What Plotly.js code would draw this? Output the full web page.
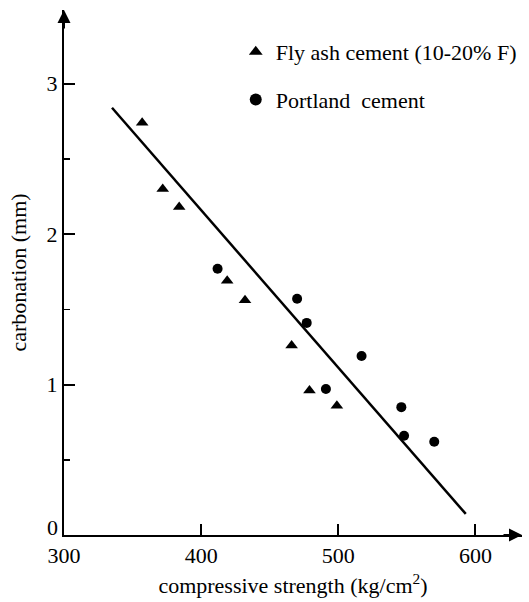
<!DOCTYPE html>
<html>
<head>
<meta charset="utf-8">
<script src="https://cdn.plot.ly/plotly-3.0.1.min.js"></script>
<style>html,body{margin:0;padding:0;background:#fff;}#chart{width:529px;height:602px;}</style>
</head>
<body>
<div id="chart"></div>
<script>
// Fly ash cement (10-20% F) — triangles
const flyAshStrength = [357, 372, 384, 419, 432, 466, 479, 499];
const flyAshCarbonation = [2.74, 2.30, 2.18, 1.69, 1.56, 1.26, 0.96, 0.86];
// Portland cement — circles
const portlandStrength = [412, 470, 477, 517, 491, 546, 548, 570];
const portlandCarbonation = [1.77, 1.57, 1.41, 1.19, 0.97, 0.85, 0.66, 0.62];
// Regression line end points
const fitStrength = [335, 593];
const fitCarbonation = [2.84, 0.14];
const xTicks = [300, 400, 500, 600];
const yTicks = [0, 1, 2, 3];

const serif = "Liberation Serif, Times New Roman, serif";

const traces = [
  {
    x: fitStrength, y: fitCarbonation, mode: 'lines', type: 'scatter',
    line: {color: '#000', width: 2.5}, showlegend: false, hoverinfo: 'skip'
  },
  {
    x: flyAshStrength, y: flyAshCarbonation, mode: 'markers', type: 'scatter',
    name: 'Fly ash cement (10-20% F)', legendgroup: 'a',
    marker: {symbol: 'triangle-up', size: 11, color: '#000'}
  },
  {
    x: portlandStrength, y: portlandCarbonation, mode: 'markers', type: 'scatter',
    name: 'Portland  cement', legendgroup: 'b',
    marker: {symbol: 'circle', size: 10, color: '#000'}
  }
];

const layout = {
  width: 529, height: 602,
  margin: {l: 64, r: 7, t: 10, b: 67},
  paper_bgcolor: '#fff', plot_bgcolor: '#fff',
  font: {family: serif, color: '#000', size: 22},
  showlegend: true,
  legend: {
    x: 0.375, xanchor: 'left', y: 0.96, yanchor: 'top',
    font: {family: serif, size: 22, color: '#000'},
    traceorder: 'grouped', tracegroupgap: 16,
    bgcolor: 'rgba(0,0,0,0)', itemsizing: 'constant'
  },
  xaxis: {
    range: [300, 634], tickvals: xTicks, ticktext: xTicks.map(String),
    ticks: 'inside', ticklen: 11, tickwidth: 2, tickcolor: '#000',
    showline: true, linecolor: '#000', linewidth: 2,
    showgrid: false, zeroline: false,
    tickfont: {family: serif, size: 22, color: '#000'},
    title: {text: 'compressive strength (kg/cm<sup>2</sup>)', font: {family: serif, size: 22, color: '#000'}, standoff: 10}
  },
  yaxis: {
    range: [0, 3.49], tickvals: yTicks, ticktext: ['', '1', '2', '3'],
    ticks: 'inside', ticklen: 11, tickwidth: 2, tickcolor: '#000',
    minor: {dtick: 0.5, ticks: 'inside', ticklen: 6, tickwidth: 1.5, tickcolor: '#000', showgrid: false},
    showline: true, linecolor: '#000', linewidth: 2,
    showgrid: false, zeroline: false,
    tickfont: {family: serif, size: 22, color: '#000'},
    title: {text: 'carbonation (mm)', font: {family: serif, size: 22, color: '#000'}, standoff: 14}
  },
  annotations: [
    {x: 634, y: 0, xref: 'x', yref: 'y', ax: -20, ay: 0, text: '', showarrow: true,
     arrowhead: 2, arrowsize: 1.3, arrowwidth: 2, arrowcolor: '#000'},
    {x: 300, y: 3.49, xref: 'x', yref: 'y', ax: 0, ay: 20, text: '', showarrow: true,
     arrowhead: 2, arrowsize: 1.3, arrowwidth: 2, arrowcolor: '#000'},
    {x: 300, y: yTicks[0], xref: 'x', yref: 'y', text: String(yTicks[0]), showarrow: false,
     xanchor: 'right', yanchor: 'bottom', xshift: -4, yshift: -7,
     font: {family: serif, size: 22, color: '#000'}}
  ]
};

Plotly.newPlot('chart', traces, layout, {displayModeBar: false, staticPlot: true});
</script>
</body>
</html>
